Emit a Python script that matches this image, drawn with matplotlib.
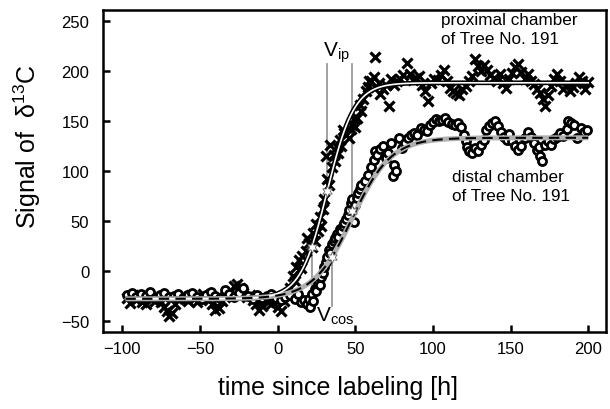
import numpy as np
import matplotlib
matplotlib.use("Agg")
import matplotlib.pyplot as plt

plt.rcParams['font.family'] = ['Liberation Sans', 'DejaVu Sans']
plt.rcParams['mathtext.fontset'] = 'custom'
plt.rcParams['mathtext.rm'] = 'Liberation Sans'
plt.rcParams['mathtext.it'] = 'Liberation Sans:italic'

# ---------------- data ----------------
prox_t = [-97,-95,-93,-91,-89,-87,-85,-83,-81,-79,-77,-75,-73,-71,-70,-68,-66,-64,-62,-60,
          -58,-56,-54,-52,-50,-48,-46,-44,-42,-40,-38,-36,-34,-32,-30,-28,-26,-24,-22,-20,
          -18,-16,-14,-12,-10,-8,-6,-4,-2,0,2,4,
          6,8,10,11,12,14,15,16,18,19,20,22,23,24,25,26,27,28,29,30,31,32,33,34,35,36,37,38,
          39,40,41,42,43,44,46,47,48,49,50,51,53,54,55,57,58,59,
          60,62,63,65,66,68,70,72,73,75,77,79,81,83,85,87,89,91,93,95,97,99,101,103,105,107,
          109,111,113,115,117,119,121,123,125,127,129,131,133,135,137,139,141,143,145,147,149,
          151,153,155,157,159,161,163,165,167,169,171,172,174,176,178,180,182,184,186,188,190,
          192,194,196,198,200]
prox_y = [-27,-32,-24,-29,-26,-31,-33,-25,-28,-30,-27,-31,-36,-40,-45,-42,-33,-28,-25,-27,
          -30,-24,-28,-31,-26,-23,-27,-29,-33,-39,-37,-30,-26,-24,-20,-15,-13,-17,-22,-26,
          -24,-29,-33,-39,-35,-28,-31,-33,-28,-36,-40,-30,
          -24,-17,-5,-10,4,11,3,15,20,33,28,24,38,30,47,40,54,45,62,72,115,92,86,126,104,116,110,124,
          118,131,125,141,138,136,133,142,146,152,144,153,166,160,172,180,184,190,
          190,194,214,188,177,182,186,165,192,186,190,192,196,208,197,191,193,195,186,180,170,188,192,191,196,201,
          190,183,180,178,176,182,185,190,195,212,205,200,206,201,196,193,190,197,188,183,192,
          198,204,207,199,192,197,190,187,182,178,172,165,176,185,192,197,190,182,186,180,184,
          188,194,190,182,189]

dist_t = [-97,-94,-91,-88,-85,-82,-79,-76,-73,-70,-67,-64,-61,-58,-55,-52,-49,-46,-43,-40,
          -37,-34,-31,-28,-25,-22,-19,-16,-13,-10,-7,-4,-1,2,5,8,11,13,15,17,
          19,20,21,22,23,24,25,26,27,28,29,30,31,32,33,34,35,36,37,38,39,40,41,42,43,44,45,46,
          47,48,49,50,51,52,53,54,56,58,60,62,63,64,66,68,70,71,73,74,75,76,78,80,82,84,86,88,
          90,92,94,96,98,100,102,104,106,108,110,112,114,116,118,120,121,122,123,125,127,129,
          131,133,134,136,138,140,142,144,146,148,149,151,153,155,157,159,161,163,165,167,168,
          169,170,172,174,176,178,180,182,184,186,187,189,191,193,195,197,199]
dist_y = [-24,-22,-26,-23,-25,-21,-27,-24,-22,-26,-25,-23,-27,-24,-22,-26,-28,-24,-21,-25,
          -27,-19,-23,-26,-22,-17,-25,-28,-24,-27,-25,-23,-27,-29,-26,-24,-28,-23,-31,-29,
          -33,-28,-36,-23,-30,-18,-20,-12,-14,-6,-2,4,9,14,21,18,27,30,33,37,34,42,40,45,48,52,56,61,
          68,72,49,66,73,78,82,86,90,96,104,111,120,116,122,125,113,118,128,95,106,100,133,123,128,133,136,138,
          136,143,141,140,146,149,152,150,151,153,149,147,146,148,144,136,130,124,120,118,123,120,
          126,131,141,145,148,150,145,139,134,131,137,130,125,121,125,133,139,134,128,121,124,
          115,110,126,130,126,132,134,138,135,142,150,148,146,133,143,139,141]

# sigmoid fit parameters: baseline, plateau, inflection time, width
prox_fit = dict(base=-28, top=188, t0=32, s=8.7)
dist_fit = dict(base=-28, top=133, t0=48, s=12.5)

# characteristic points (stars) and their vertical markers
vip_t = [32, 48]
vip_y = [80, 60]
vcos_t = [22, 35]
vcos_y = [24, 14]

x_ticks = [-100, -50, 0, 50, 100, 150, 200]
y_ticks = [-50, 0, 50, 100, 150, 200, 250]


def sigmoid(t, base, top, t0, s):
    return base + (top - base) / (1 + np.exp(-(t - t0) / s))


fig = plt.figure(figsize=(6.1, 4.1), dpi=100)
ax = fig.add_axes([0.1689, 0.187, 0.9934 - 0.1689, 0.973 - 0.187])

# vertical guide lines
for t, y in zip(vip_t, vip_y):
    ax.plot([t, t], [y, 207], color='#9a9a9a', lw=1.3, zorder=1)
for t, y in zip(vcos_t, vcos_y):
    ax.plot([t, t], [y, -35], color='#9a9a9a', lw=1.3, zorder=1)

# scatter points
ax.plot(prox_t, prox_y, ls='none', marker='x', ms=6.8, mew=2.3, color='black', zorder=3)
ax.plot(dist_t, dist_y, ls='none', marker='o', ms=5.8, mew=2.0, mfc='white', mec='black', zorder=3)

# fits
tt = np.linspace(-98, 200, 600)
ax.plot(tt, sigmoid(tt, **prox_fit), color='black', lw=3.4, zorder=4, solid_capstyle='butt')
ax.plot(tt, sigmoid(tt, **prox_fit), color='white', lw=1.2, zorder=5)
ax.plot(tt, sigmoid(tt, **dist_fit), color='#b0b0b0', lw=3.6, zorder=4, solid_capstyle='butt')
ax.plot(tt, sigmoid(tt, **dist_fit), color='black', lw=1.5, ls=(0, (5, 3)), zorder=5)

# stars
ax.plot(vip_t + vcos_t, vip_y + vcos_y, ls='none', marker=(6, 1, 0), ms=8, mfc='white',
        mec='#666666', mew=0.6, zorder=6)

ax.set_xlim(-112.4, 211.4)
ax.set_ylim(-61.5, 260.7)
ax.set_xticks(x_ticks)
ax.set_yticks(y_ticks)
ax.tick_params(direction='in', length=5, width=1.8, labelsize=12, top=False, right=False)
ax.tick_params(axis='x', pad=6)
ax.tick_params(axis='y', pad=10)
for sp in ax.spines.values():
    sp.set_linewidth(1.8)

# annotations
ax.text(29.2, 214.7, r'V$_{\mathrm{ip}}$', fontsize=15, ha='left', va='baseline', zorder=7)
ax.text(24.8, -49.5, r'V$_{\mathrm{cos}}$', fontsize=15, ha='left', va='baseline', zorder=7)
ax.text(105, 258.5, 'proximal chamber\nof Tree No. 191', fontsize=12.3, ha='left', va='top',
        linespacing=1.35, zorder=7)
ax.text(112, 102, 'distal chamber\nof Tree No. 191', fontsize=12.3, ha='left', va='top',
        linespacing=1.35, zorder=7)

fig.text(337.5 / 610, 1 - 388 / 410, 'time since labeling [h]', fontsize=18, ha='center', va='center')
fig.text(27 / 610, 1 - 147 / 410, r'Signal of  δ$^{13}$C', fontsize=18, ha='center', va='center',
         rotation=90)

fig.savefig('out.png', dpi=100)
